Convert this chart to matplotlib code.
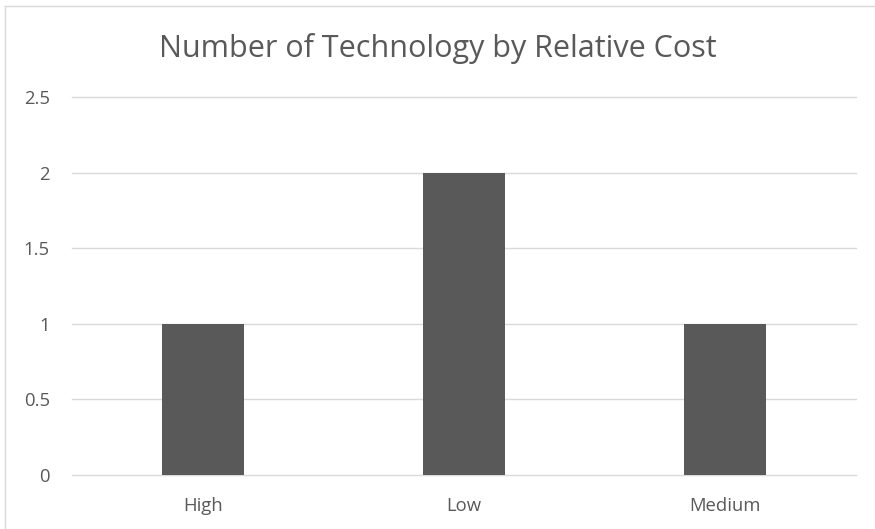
import matplotlib
matplotlib.use("Agg")
import matplotlib.pyplot as plt
from matplotlib.lines import Line2D

categories = ["High", "Low", "Medium"]
counts = [1, 2, 1]
y_ticks = [0, 0.5, 1, 1.5, 2, 2.5]
y_tick_labels = ["0", "0.5", "1", "1.5", "2", "2.5"]
title = "Number of Technology by Relative Cost"

TEXT = "#595959"
BAR = "#595959"
GRID = "#D9D9D9"

plt.rcParams["font.family"] = ["Open Sans", "DejaVu Sans"]

fig = plt.figure(figsize=(8.75, 5.29), dpi=100)
ax = fig.add_axes([72 / 875, 1 - 475 / 529, (856 - 72) / 875, (475 - 97) / 529])

x = list(range(len(categories)))
ax.bar(x, counts, width=0.314, color=BAR, zorder=3)

ax.set_xlim(-0.5, len(categories) - 0.5)
ax.set_ylim(0, 2.5)
ax.set_yticks(y_ticks)
ax.set_yticklabels(y_tick_labels)
ax.set_xticks(x)
ax.set_xticklabels(categories)

for t in y_ticks:
    ax.axhline(t, color=GRID, linewidth=1.0, zorder=1, clip_on=False)

for s in ax.spines.values():
    s.set_visible(False)
ax.tick_params(axis="both", length=0, colors=TEXT, labelsize=13.3)
ax.tick_params(axis="y", pad=16)
ax.tick_params(axis="x", pad=16)

fig.text(0.5, 1 - 57 / 529, title, ha="center", va="baseline",
         fontsize=22, color=TEXT)

# chart frame
fig.add_artist(Line2D([5 / 875, 5 / 875], [0, 1 - 6 / 529], color=GRID,
                      linewidth=1.0, transform=fig.transFigure))
fig.add_artist(Line2D([5 / 875, 1], [1 - 6 / 529, 1 - 6 / 529], color=GRID,
                      linewidth=1.0, transform=fig.transFigure))

fig.savefig("out.png", dpi=100, facecolor="white")
